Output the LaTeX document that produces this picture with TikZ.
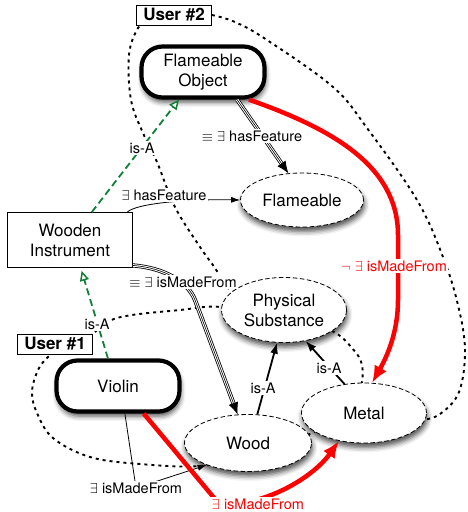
\documentclass[tikz,border=0pt]{standalone}
\usepackage{fontspec}
\setmainfont{TeX Gyre Heros}
\usetikzlibrary{arrows.meta,shapes.geometric,shadows.blur,calc,backgrounds}
\definecolor{isagreen}{RGB}{16,128,56}
\definecolor{pured}{RGB}{255,0,0}
\begin{document}
\begin{tikzpicture}[x=1pt,y=-1pt,
  base/.style={font=\fontsize{17}{20}\selectfont, align=center, inner sep=0pt},
  bshadow/.style={blur shadow={shadow xshift=1pt, shadow yshift=-4.5pt, shadow blur radius=5pt, shadow opacity=70}},
  thickbox/.style={base, draw, line width=4.2pt, rounded corners=21pt, fill=white, minimum width=123pt, minimum height=51pt, bshadow},
  concept/.style={base, ellipse, draw, dash pattern=on 4.5pt off 2.5pt, line width=0.8pt, fill=white, bshadow},
  plainbox/.style={base, draw, line width=0.9pt, fill=white, minimum width=125pt, minimum height=55pt},
  userbox/.style={base, draw, line width=0.8pt, fill=white, font=\fontsize{17}{20}\selectfont\bfseries, minimum width=75pt, minimum height=20pt},
  lab/.style={fill=white, font=\fontsize{14.5}{17}\selectfont, inner sep=1.5pt},
  dots/.style={line width=1.9pt, dash pattern=on 3pt off 4pt},
  isa/.style={draw=isagreen, line width=1.8pt, dash pattern=on 7pt off 4pt, -{Triangle[length=10pt, width=9pt, line width=1.5pt, fill=white]}},
  triple/.style={line width=4.2pt, black, postaction={draw, white, line width=2.6pt}, postaction={draw, black, line width=0.6pt}},
  blackarrow/.style={line width=0.8pt, -{Latex[length=12pt,width=10pt]}},
  thinarrow/.style={line width=0.8pt, -{Latex[length=9pt,width=6pt]}},
  isablack/.style={line width=1.8pt, -{Latex[length=11pt,width=8pt]}},
  redarrow/.style={draw=pured, line width=4.5pt, line join=round, -{Latex[length=17pt,width=14pt]}}
]
\useasboundingbox (0,0) rectangle (467,512);

% nodes
\node[userbox] (u2) at (174,15) {User \#2};
\node[thickbox] (fo) at (203,72) {Flameable\\Object};
\node[concept, minimum width=123pt, minimum height=54pt] (fl) at (302,200) {Flameable};
\node[plainbox] (wi) at (70,240) {Wooden\\Instrument};
\node[concept, minimum width=125pt, minimum height=65pt] (ps) at (284,310) {Physical\\Substance};
\node[concept, minimum width=125pt, minimum height=60pt] (me) at (364,413) {Metal};
\node[concept, minimum width=127pt, minimum height=57pt] (wo) at (248,443) {Wood};
\node[thickbox] (vi) at (118,386) {Violin};
\node[userbox] (u1) at (55,344) {User \#1};

% user regions
\begin{scope}[on background layer]
\draw[dots] plot[smooth, tension=0.6] coordinates {(u2.east) (235,22) (267,40) (333,87) (367,128) (417,200) (443,257) (458,305) (465,350) (459,392) (440,414) (420,420) (395,418)};
\draw[dots] plot[smooth, tension=0.6] coordinates {(150,18) (138,28) (129,55) (131,100) (143,133) (157,162) (175,207) (200,247) (215,268) (228,288) (250,300)};
\draw[dots] plot[smooth, tension=0.6] coordinates {(60,348) (48,357) (38,370) (32,392) (37,413) (53,438) (90,457) (140,464) (200,466) (250,455) (312,433) (345,412) (360,390) (362,365) (352,348) (332,331) (290,318) (222,307) (180,310) (117,318) (90,336) (75,344)};
\end{scope}

% green is-A
\draw[isa] (wi.52) -- (fo.229);
\draw[isa, shorten >=3pt] (vi.110) -- (wi.291);

% equivalence hasFeature
\coordinate (hf) at ($(fl.117)!12pt!(fo.321)$);
\draw[triple] (fo.321) -- (hf);
\draw[blackarrow] (hf) -- (fl.117);

% hasFeature
\draw[thinarrow] (wi.26) .. controls (137,203) and (190,199) .. (fl.west);

% equivalence isMadeFrom
\coordinate (mf1) at (195,300);
\coordinate (mf2) at ($(wo.110)!12pt!(mf1)$);
\draw[triple] (wi.338) .. controls (165,268) and (188,282) .. (mf1) -- (mf2);
\draw[blackarrow] (mf2) -- (wo.110);

% black is-A
\draw[isablack] (wo.72) -- (ps.258);
\draw[isablack] (me.124) -- (ps.305);

% violin isMadeFrom wood
\coordinate (l6) at (136,488);
\draw[thinarrow] (vi.284) -- (l6) -- (wo.208);

% red
\draw[redarrow] (vi.313) -- (220,505) .. controls (270,505) and (315,475) .. (me.228);
\draw[redarrow] (fo.329) .. controls (330,128) and (398,165) .. (398,235) -- (398,300) .. controls (398,335) and (385,360) .. (me.75);

% labels
\node[lab] (la1) at (142,148) {is-A};
\node[lab] (la2) at (97,324) {is-A};
\node[lab] (la3) at (252,136) {$\equiv$ $\exists$ hasFeature};
\node[lab] (la4) at (164,195) {$\exists$ hasFeature};
\node[lab] (la5) at (183,282) {$\equiv$ $\exists$ isMadeFrom};
\node[lab, text=pured] (la6) at (394,266) {$\neg$ $\exists$ isMadeFrom};
\node[lab] (la7) at (263,388) {is-A};
\node[lab] (la8) at (329,368) {is-A};
\node[lab] (la9) at (l6) {$\exists$ isMadeFrom};
\node[lab, text=pured] (la10) at (258,504) {$\exists$ isMadeFrom};
\end{tikzpicture}
\end{document}
